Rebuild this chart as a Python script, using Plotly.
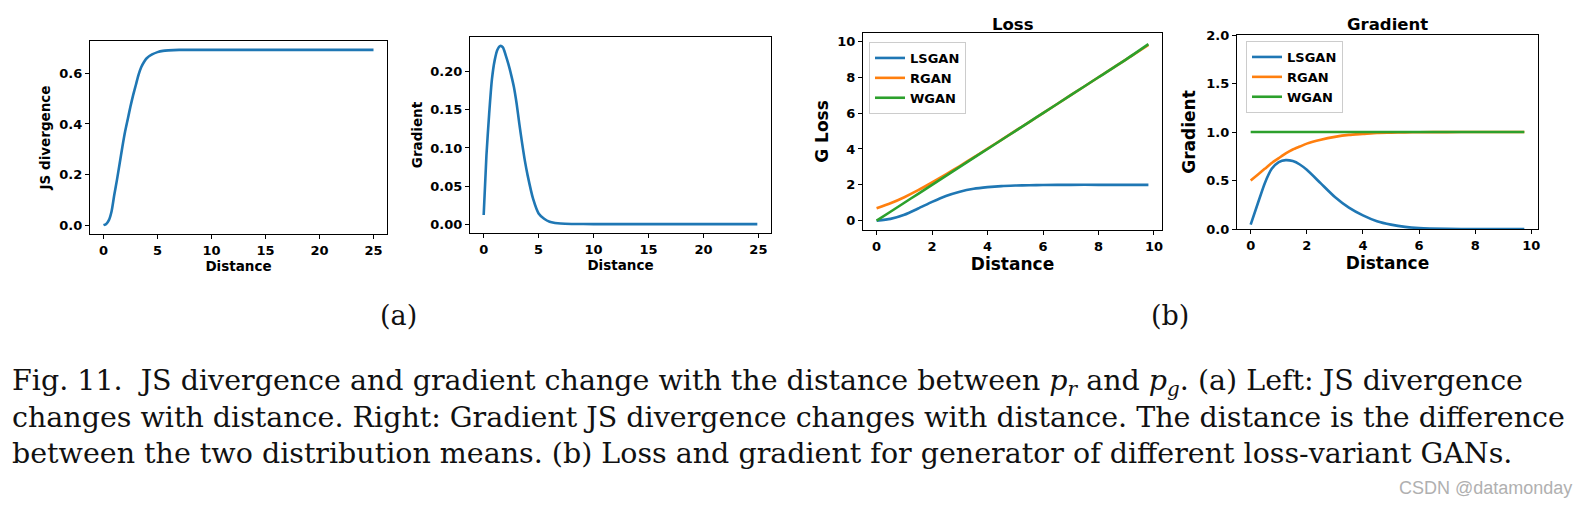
import plotly.graph_objects as go

# ---------------- data ----------------
# (a) left: JS divergence vs distance
js_dist = [0, 0.25, 0.5, 0.75, 1.0, 1.25, 1.5, 1.75, 2.0, 2.25, 2.5, 2.75, 3.0, 3.25,
           3.5, 3.75, 4.0, 4.5, 5.0, 5.5, 6.0, 7.0, 8.0, 10, 15, 20, 25]
js_div = [0.0, 0.005, 0.02, 0.055, 0.12, 0.18, 0.245, 0.31, 0.37, 0.42, 0.47, 0.515, 0.555, 0.595,
          0.625, 0.645, 0.66, 0.675, 0.684, 0.689, 0.691, 0.693, 0.693, 0.693, 0.693, 0.693, 0.693]

# (a) right: gradient of JS divergence vs distance
jsg_dist = [0, 0.25, 0.5, 0.75, 1.0, 1.25, 1.5, 1.75, 2.0, 2.25, 2.5, 2.75, 3.0, 3.25, 3.5,
            3.75, 4.0, 4.5, 5.0, 5.5, 6.0, 6.5, 7.0, 8.0, 10, 15, 20, 24.9]
jsg_val = [0.012, 0.09, 0.145, 0.19, 0.215, 0.229, 0.234, 0.232, 0.222, 0.21, 0.196, 0.18, 0.158, 0.131, 0.106,
           0.083, 0.064, 0.033, 0.014, 0.007, 0.003, 0.0015, 0.0007, 0.0002, 0.0, 0.0, 0.0, 0.0]

# (b) loss of generator
loss_dist = [0, 0.5, 1, 1.5, 2, 2.5, 3, 3.5, 4, 4.5, 5, 5.5, 6, 7, 8, 9, 9.8]
loss_lsgan = [0.0, 0.1, 0.33, 0.68, 1.05, 1.38, 1.62, 1.78, 1.87, 1.93, 1.96, 1.98, 1.99, 2.0, 2.0, 2.0, 2.0]
loss_rgan = [0.69, 0.97, 1.31, 1.70, 2.13, 2.58, 3.05, 3.53, 4.02, 4.51, 5.01, 5.5, 6.0, 7.0, 8.0, 9.0, 9.8]
loss_wgan = [0.0, 0.5, 1.0, 1.5, 2.0, 2.5, 3.0, 3.5, 4.0, 4.5, 5.0, 5.5, 6.0, 7.0, 8.0, 9.0, 9.85]

# (b) gradient of generator
grad_dist = [0, 0.25, 0.5, 0.75, 1.0, 1.25, 1.5, 1.75, 2.0, 2.5, 3.0, 3.5, 4.0, 4.5, 5.0,
             5.5, 6.0, 7.0, 8.0, 9.0, 9.75]
grad_lsgan = [0.045, 0.26, 0.47, 0.62, 0.69, 0.71, 0.70, 0.665, 0.61, 0.47, 0.33, 0.22, 0.14, 0.08, 0.045,
              0.022, 0.01, 0.002, 0.0, 0.0, 0.0]
grad_rgan = [0.50, 0.56, 0.62, 0.68, 0.73, 0.78, 0.82, 0.85, 0.88, 0.92, 0.95, 0.97, 0.98, 0.99, 0.993,
             0.996, 0.998, 0.999, 1.0, 1.0, 1.0]
grad_wgan = [1.0] * len(grad_dist)

series_names = ["LSGAN", "RGAN", "WGAN"]
colors = ["#1f77b4", "#ff7f0e", "#2ca02c"]

caption_lines = [
    "Fig. 11.  JS divergence and gradient change with the distance between <i>p<sub>r</sub></i> and <i>p<sub>g</sub></i>. (a) Left: JS divergence",
    "changes with distance. Right: Gradient JS divergence changes with distance. The distance is the difference",
    "between the two distribution means. (b) Loss and gradient for generator of different loss-variant GANs.",
]

# ---------------- figure ----------------
W, H = 1589, 507
BOLD = dict(family="DejaVu Sans", color="black", weight="bold")


def px_x(a, b):
    return [a / W, b / W]


def px_y(top, bottom):
    return [1 - bottom / H, 1 - top / H]


fig = go.Figure()
LW = 2.6

fig.add_trace(go.Scatter(x=js_dist, y=js_div, mode="lines", line=dict(color=colors[0], width=LW, shape="spline", smoothing=0.6),
                         xaxis="x", yaxis="y", showlegend=False))
fig.add_trace(go.Scatter(x=jsg_dist, y=jsg_val, mode="lines", line=dict(color=colors[0], width=LW, shape="spline", smoothing=0.6),
                         xaxis="x2", yaxis="y2", showlegend=False))

for name, vals, c in zip(series_names, [loss_lsgan, loss_rgan, loss_wgan], colors):
    fig.add_trace(go.Scatter(x=loss_dist, y=vals, mode="lines", name=name,
                             line=dict(color=c, width=LW, shape="spline", smoothing=0.6),
                             xaxis="x3", yaxis="y3", legend="legend"))
for name, vals, c in zip(series_names, [grad_lsgan, grad_rgan, grad_wgan], colors):
    fig.add_trace(go.Scatter(x=grad_dist, y=vals, mode="lines", name=name,
                             line=dict(color=c, width=LW, shape="spline", smoothing=0.6),
                             xaxis="x4", yaxis="y4", legend="legend2"))


def axis(domain, rng, tickvals, fmt, anchor, title, tsize, tick_size, standoff):
    return dict(domain=domain, range=rng, tickvals=tickvals, tickformat=fmt, anchor=anchor,
                showline=True, mirror=True, linecolor="black", linewidth=1.3,
                ticks="outside", ticklen=4, tickwidth=1.1, tickcolor="black",
                showgrid=False, zeroline=False,
                tickfont=dict(size=tick_size, **BOLD),
                title=dict(text=title, font=dict(size=tsize, **BOLD), standoff=standoff))


layout = dict(
    width=W, height=H, margin=dict(l=0, r=0, t=0, b=0, autoexpand=False),
    paper_bgcolor="white", plot_bgcolor="white",
    xaxis=axis(px_x(90, 387), [-1.25, 26.25], [0, 5, 10, 15, 20, 25], "d", "y", "Distance", 13.5, 13, 1),
    yaxis=axis(px_y(41, 234), [-0.035, 0.728], [0, 0.2, 0.4, 0.6], ".1f", "x", "JS divergence", 13.5, 13, 5),
    xaxis2=axis(px_x(470, 771), [-1.245, 26.145], [0, 5, 10, 15, 20, 25], "d", "y2", "Distance", 13.5, 13, 1),
    yaxis2=axis(px_y(37, 233), [-0.0117, 0.2457], [0, 0.05, 0.10, 0.15, 0.20], ".2f", "x2", "Gradient", 13.5, 13, 4),
    xaxis3=axis(px_x(863, 1162), [-0.49, 10.29], [0, 2, 4, 6, 8, 10], "d", "y3", "Distance", 17, 13, 3),
    yaxis3=axis(px_y(33, 230), [-0.52, 10.47], [0, 2, 4, 6, 8, 10], "d", "x3", "G Loss", 17, 13, 4),
    xaxis4=axis(px_x(1237, 1538), [-0.4875, 10.2375], [0, 2, 4, 6, 8, 10], "d", "y4", "Distance", 17, 13, 3),
    yaxis4=axis(px_y(35, 229), [0, 2.0], [0, 0.5, 1.0, 1.5, 2.0], ".1f", "x4", "Gradient", 17, 13, 6),
    legend=dict(x=869 / W, y=1 - 42 / H, xanchor="left", yanchor="top",
                bgcolor="rgba(255,255,255,0.9)", bordercolor="#cccccc", borderwidth=1,
                font=dict(size=13, **BOLD), itemwidth=30, tracegroupgap=0),
    legend2=dict(x=1246 / W, y=1 - 41 / H, xanchor="left", yanchor="top",
                 bgcolor="rgba(255,255,255,0.9)", bordercolor="#cccccc", borderwidth=1,
                 font=dict(size=13, **BOLD), itemwidth=30, tracegroupgap=0),
)
fig.update_layout(**layout)

ann = []
# subplot titles
ann.append(dict(text="Loss", x=(863 + 1162) / 2 / W, y=1 - 24 / H, xref="paper", yref="paper",
                xanchor="center", yanchor="middle", showarrow=False, font=dict(size=16.5, **BOLD)))
ann.append(dict(text="Gradient", x=(1237 + 1538) / 2 / W, y=1 - 24 / H, xref="paper", yref="paper",
                xanchor="center", yanchor="middle", showarrow=False, font=dict(size=16.5, **BOLD)))
# panel labels
SERIF = "DejaVu Serif"
ann.append(dict(text="(a)", x=398 / W, y=1 - 315 / H, xref="paper", yref="paper", xanchor="center", yanchor="middle",
                showarrow=False, font=dict(family=SERIF, size=27, color="#111111")))
ann.append(dict(text="(b)", x=1170 / W, y=1 - 315 / H, xref="paper", yref="paper", xanchor="center", yanchor="middle",
                showarrow=False, font=dict(family=SERIF, size=27, color="#111111")))
# caption
for i, line in enumerate(caption_lines):
    ann.append(dict(text=line, x=10 / W, y=1 - (382 + 35.5 * i) / H, xref="paper", yref="paper",
                    xanchor="left", yanchor="middle", showarrow=False,
                    font=dict(family=SERIF, size=28.5, color="#111111")))
# watermark
ann.append(dict(text="CSDN @datamonday", x=1574 / W, y=1 - 488 / H, xref="paper", yref="paper",
                xanchor="right", yanchor="middle", showarrow=False,
                font=dict(family="Liberation Sans", size=18, color="#b0b0b0")))
fig.update_layout(annotations=ann)

fig.write_html("out.html", config={"displayModeBar": False},
               post_script="document.body.style.margin='0';document.body.style.overflow='hidden';")
